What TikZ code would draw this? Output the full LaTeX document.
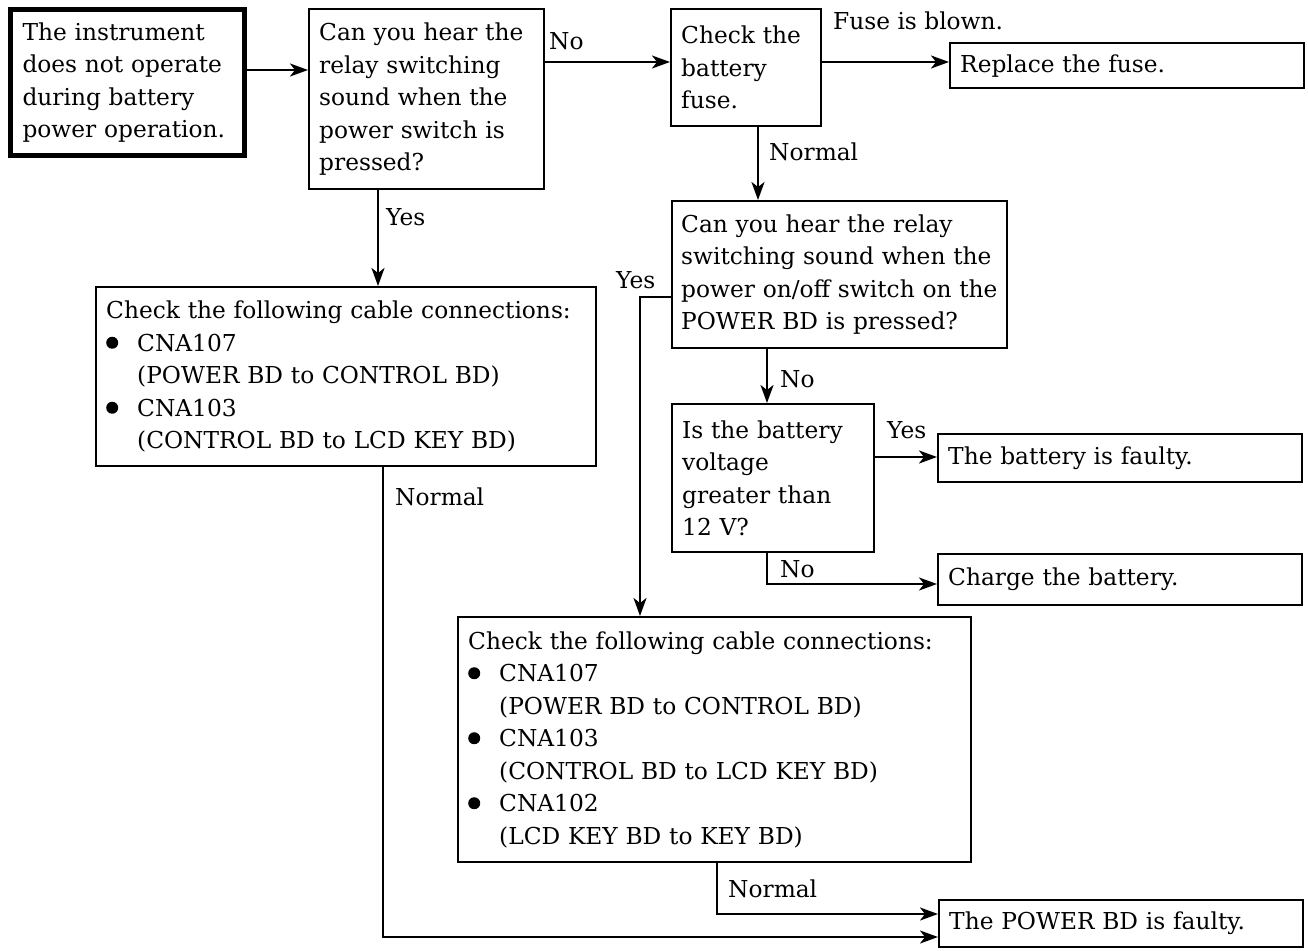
\documentclass[tikz,border=0pt]{standalone}
\usepackage{fontspec}
\setmainfont{DejaVu Serif}
\usetikzlibrary{arrows.meta}
% round bullet followed by the hanging indent of a list entry
\newcommand{\blt}{\makebox[31pt][l]{\tikz[baseline=0pt]\fill (6pt,8.5pt) circle[radius=6pt];}}
\newcommand{\ind}{\hspace*{31pt}}
\begin{document}
\begin{tikzpicture}[x=1pt,y=-1pt,
  txt/.style={font=\fontsize{23.3}{32.5}\selectfont},
  box/.style={txt, draw, line width=2.4pt, anchor=north west, align=left,
              inner xsep=10pt, inner ysep=0pt},
  lbl/.style={txt, anchor=base west, inner sep=0pt},
  arr/.style={line width=2.4pt, -{Stealth[length=18pt,width=13pt,inset=5pt]}}]
\path[use as bounding box, fill=white] (0,0) rectangle (1308,950);

% boxes
\node[box, line width=5pt, inner xsep=12pt, minimum width=234pt, minimum height=146pt, text width=210pt]
  (A) at (8,7) {The instrument\\does not operate\\during battery\\power operation.};
\node[box, minimum width=235pt, minimum height=180pt, text width=215pt]
  (B) at (308,8) {Can you hear the\\relay switching\\sound when the\\power switch is\\pressed?};
\node[box, minimum width=150pt, minimum height=117pt, text width=130pt]
  (C) at (670,8) {Check the\\battery\\fuse.};
\node[box, minimum width=354pt, minimum height=45pt, text width=334pt]
  (D) at (949,42) {Replace the fuse.};
\node[box, inner xsep=9pt, minimum width=335pt, minimum height=147pt, text width=317pt]
  (E) at (671,200) {\mbox{Can you hear the relay}\\\mbox{switching sound when the}\\
    \mbox{power on/off switch on the}\\\mbox{POWER BD is pressed?}};
\node[box, minimum width=500pt, minimum height=179pt, text width=480pt]
  (F) at (95,286) {Check the following cable connections:\\
    \blt CNA107\\ \ind(POWER BD to CONTROL BD)\\
    \blt CNA103\\ \ind(CONTROL BD to LCD KEY BD)};
\node[box, minimum width=202pt, minimum height=148pt, text width=182pt]
  (H) at (671,403) {Is the battery\\voltage\\greater than\\12 V?};
\node[box, minimum width=364pt, minimum height=48pt, text width=344pt]
  (I) at (937,433) {The battery is faulty.};
\node[box, minimum width=364pt, minimum height=51pt, text width=344pt]
  (J) at (937,553) {Charge the battery.};
\node[box, minimum width=513pt, minimum height=245pt, text width=493pt]
  (G) at (457,616) {Check the following cable connections:\\
    \blt CNA107\\ \ind(POWER BD to CONTROL BD)\\
    \blt CNA103\\ \ind(CONTROL BD to LCD KEY BD)\\
    \blt CNA102\\ \ind(LCD KEY BD to KEY BD)};
\node[box, minimum width=364pt, minimum height=47pt, text width=344pt]
  (K) at (938,899) {The POWER BD is faulty.};

% connectors
\draw[arr] (A.east |- 0,70) -- (B.west |- 0,70);
\draw[arr] (B.east |- 0,62) -- (C.west |- 0,62);
\draw[arr] (C.east |- 0,62) -- (D.west |- 0,62);
\draw[arr] (C.south -| 758,0) -- (E.north -| 758,0);
\draw[arr] (B.south -| 378,0) -- (F.north -| 378,0);
\draw[arr] (E.west |- 0,297) -| (G.north -| 640,0);
\draw[arr] (E.south -| 767,0) -- (H.north -| 767,0);
\draw[arr] (H.east |- 0,457) -- (I.west |- 0,457);
\draw[arr] (H.south -| 767,0) |- (J.west |- 0,584);
\draw[arr] (G.south -| 717,0) |- (K.west |- 0,914);
\draw[arr] (F.south -| 383,0) |- (K.west |- 0,937);

% branch labels
\node[lbl] (lno1) at (549,50) {No};
\node[lbl] (lfuse) at (833,30) {Fuse is blown.};
\node[lbl] (lnorm1) at (769,160) {Normal};
\node[lbl] (lyes1) at (386,225) {Yes};
\node[lbl] (lyes2) at (616,288) {Yes};
\node[lbl] (lno2) at (780,387) {No};
\node[lbl] (lyes3) at (887,438) {Yes};
\node[lbl] (lno3) at (780,577) {No};
\node[lbl] (lnorm2) at (728,897) {Normal};
\node[lbl] (lnorm3) at (395,505) {Normal};
\end{tikzpicture}
\end{document}
